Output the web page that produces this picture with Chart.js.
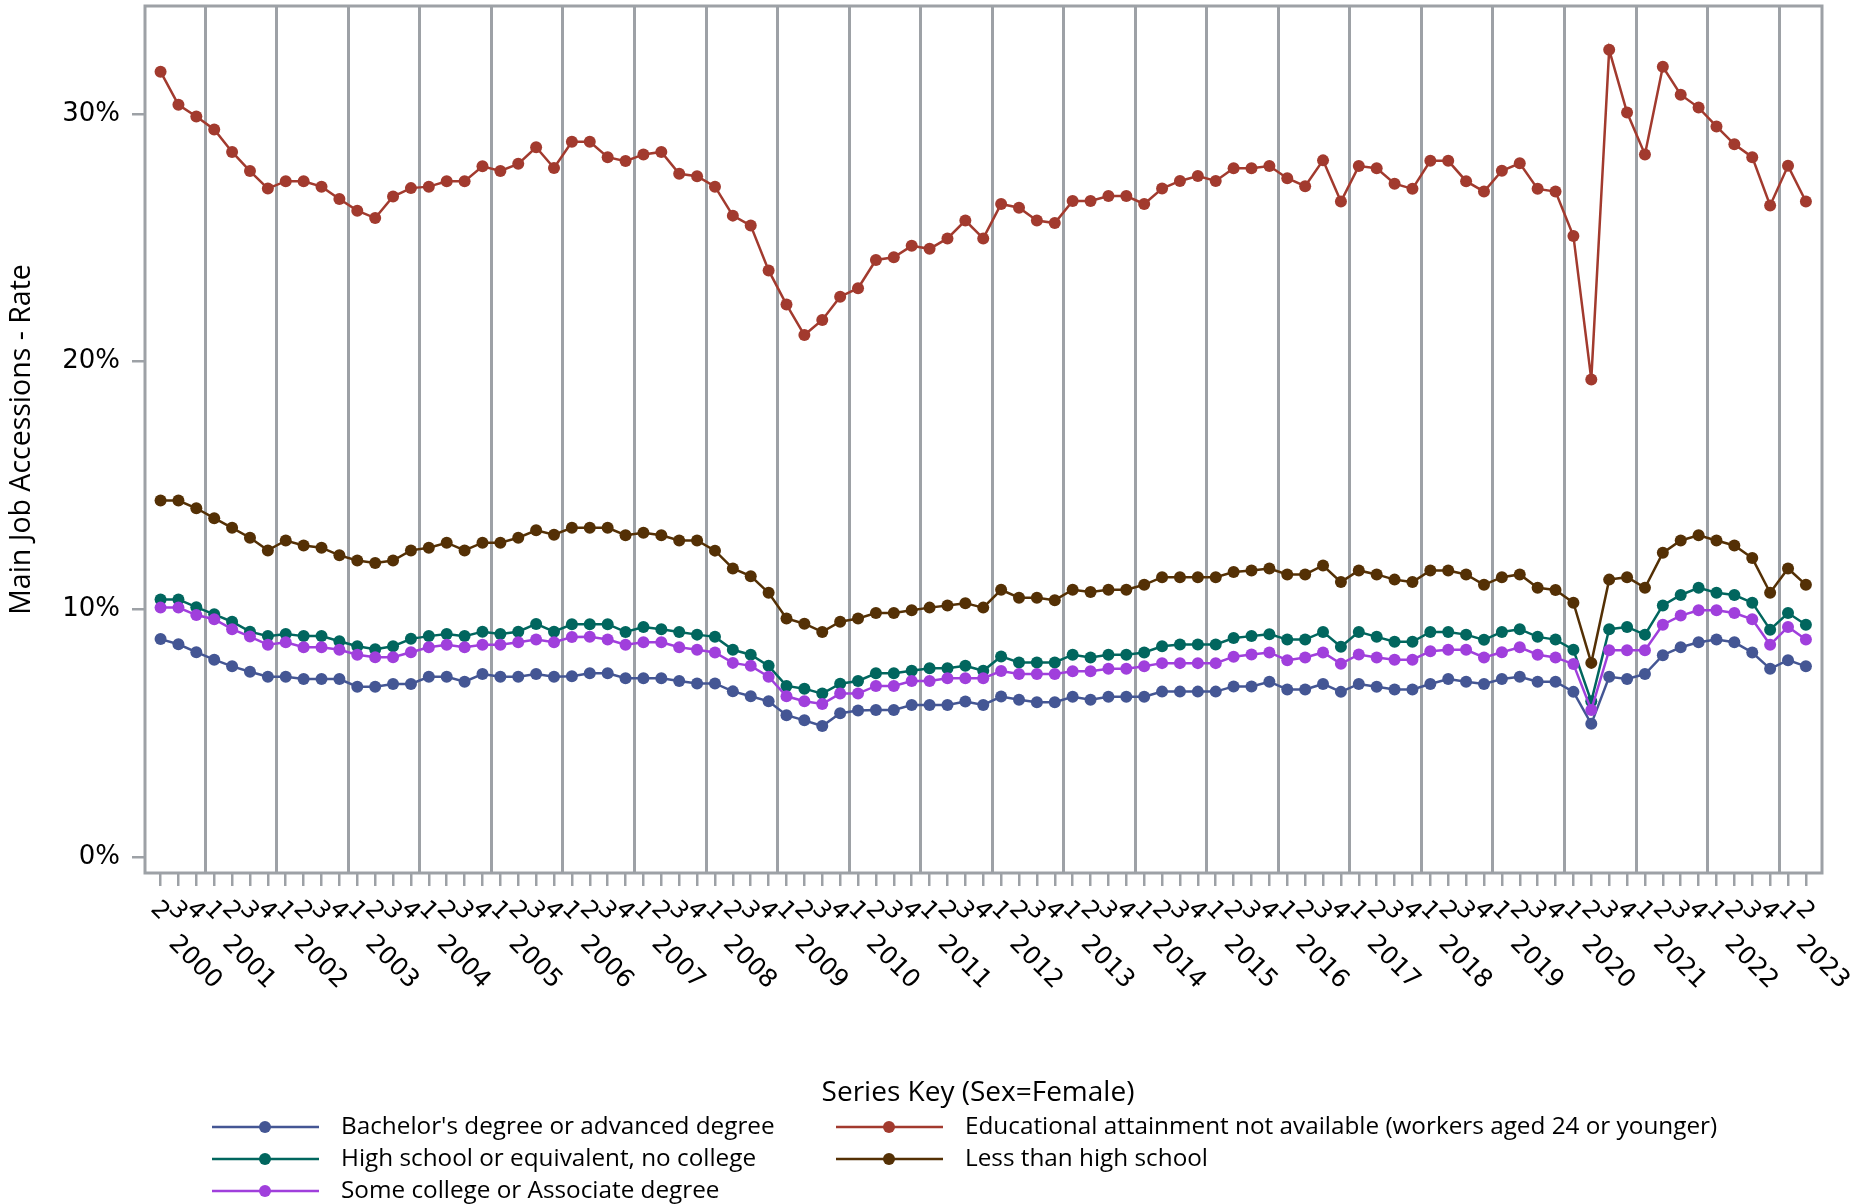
<!DOCTYPE html>
<html lang="en">
<head>
  <meta charset="UTF-8">
  <title>Main Job Accessions - Rate</title>
  <style>
    html, body { margin: 0; padding: 0; background: #fff; }
  </style>
</head>
<body>
  <div>
    <canvas id="myChart" width="1864" height="1204"></canvas>
  </div>

  <script src="https://cdn.jsdelivr.net/npm/chart.js"></script>

  <script>
    // quarters, 2000 Q2 .. 2023 Q2
    const periods = [
      '2000 2','2000 3','2000 4',
      '2001 1','2001 2','2001 3','2001 4','2002 1','2002 2','2002 3','2002 4',
      '2003 1','2003 2','2003 3','2003 4','2004 1','2004 2','2004 3','2004 4',
      '2005 1','2005 2','2005 3','2005 4','2006 1','2006 2','2006 3','2006 4',
      '2007 1','2007 2','2007 3','2007 4','2008 1','2008 2','2008 3','2008 4',
      '2009 1','2009 2','2009 3','2009 4','2010 1','2010 2','2010 3','2010 4',
      '2011 1','2011 2','2011 3','2011 4','2012 1','2012 2','2012 3','2012 4',
      '2013 1','2013 2','2013 3','2013 4','2014 1','2014 2','2014 3','2014 4',
      '2015 1','2015 2','2015 3','2015 4','2016 1','2016 2','2016 3','2016 4',
      '2017 1','2017 2','2017 3','2017 4','2018 1','2018 2','2018 3','2018 4',
      '2019 1','2019 2','2019 3','2019 4','2020 1','2020 2','2020 3','2020 4',
      '2021 1','2021 2','2021 3','2021 4','2022 1','2022 2','2022 3','2022 4',
      '2023 1','2023 2'
    ]

    const bachelor = [
      8.80, 8.59, 8.27, 7.97, 7.70, 7.48, 7.28, 7.28, 7.19, 7.19, 7.19,
      6.88, 6.88, 6.99, 6.99, 7.28, 7.28, 7.08, 7.39, 7.28, 7.28, 7.39, 7.28,
      7.30, 7.42, 7.42, 7.22, 7.22, 7.22, 7.11, 7.01, 7.01, 6.69, 6.49, 6.29,
      5.73, 5.52, 5.29, 5.81, 5.92, 5.94, 5.94, 6.14, 6.14, 6.14, 6.28, 6.14,
      6.48, 6.35, 6.25, 6.25, 6.47, 6.35, 6.47, 6.47, 6.47, 6.68, 6.68, 6.68,
      6.68, 6.89, 6.89, 7.08, 6.77, 6.77, 6.99, 6.67, 6.99, 6.88, 6.77, 6.77,
      6.99, 7.19, 7.08, 6.99, 7.19, 7.28, 7.08, 7.08, 6.67, 5.38, 7.28, 7.19,
      7.39, 8.15, 8.47, 8.67, 8.78, 8.67, 8.26, 7.60, 7.95, 7.70
    ]
    const notAvailable = [
      31.70, 30.36, 29.89, 29.37, 28.46, 27.69, 26.98, 27.28, 27.28, 27.06, 26.56,
      26.09, 25.79, 26.66, 27.00, 27.06, 27.28, 27.28, 27.88, 27.69, 27.98, 28.65, 27.81,
      28.87, 28.87, 28.25, 28.09, 28.36, 28.46, 27.58, 27.48, 27.06, 25.89, 25.49, 23.68,
      22.30, 21.07, 21.68, 22.62, 22.96, 24.10, 24.21, 24.67, 24.55, 24.97, 25.69, 24.97,
      26.36, 26.21, 25.69, 25.59, 26.48, 26.48, 26.68, 26.68, 26.36, 26.98, 27.29, 27.49,
      27.29, 27.80, 27.80, 27.89, 27.40, 27.08, 28.12, 26.46, 27.89, 27.80, 27.18, 26.97,
      28.10, 28.10, 27.28, 26.86, 27.70, 28.00, 26.97, 26.86, 25.07, 19.28, 32.58, 30.05,
      28.36, 31.90, 30.77, 30.25, 29.49, 28.77, 28.25, 26.30, 27.90, 26.46
    ]
    const highSchool = [
      10.40, 10.40, 10.09, 9.80, 9.50, 9.10, 8.92, 9.01, 8.92, 8.92, 8.71,
      8.51, 8.39, 8.51, 8.81, 8.92, 9.01, 8.92, 9.10, 9.01, 9.10, 9.41, 9.10,
      9.40, 9.40, 9.40, 9.09, 9.29, 9.20, 9.09, 8.98, 8.89, 8.37, 8.17, 7.72,
      6.91, 6.80, 6.60, 7.00, 7.11, 7.42, 7.42, 7.52, 7.62, 7.62, 7.72, 7.52,
      8.10, 7.86, 7.86, 7.86, 8.17, 8.06, 8.17, 8.17, 8.26, 8.51, 8.58, 8.58,
      8.58, 8.84, 8.92, 9.00, 8.78, 8.78, 9.09, 8.49, 9.09, 8.89, 8.69, 8.69,
      9.09, 9.09, 8.98, 8.77, 9.09, 9.20, 8.89, 8.78, 8.37, 6.29, 9.20, 9.29,
      8.98, 10.16, 10.58, 10.87, 10.67, 10.58, 10.27, 9.18, 9.85, 9.38
    ]
    const lessThanHS = [
      14.39, 14.39, 14.08, 13.68, 13.29, 12.89, 12.38, 12.78, 12.58, 12.49, 12.18,
      11.97, 11.87, 11.97, 12.38, 12.49, 12.69, 12.38, 12.69, 12.69, 12.89, 13.19, 13.01,
      13.29, 13.29, 13.29, 12.99, 13.09, 12.99, 12.78, 12.78, 12.37, 11.65, 11.34, 10.67,
      9.63, 9.42, 9.09, 9.50, 9.63, 9.85, 9.85, 9.96, 10.07, 10.16, 10.25, 10.07,
      10.79, 10.47, 10.47, 10.37, 10.79, 10.70, 10.79, 10.79, 10.99, 11.30, 11.30, 11.30,
      11.30, 11.51, 11.57, 11.65, 11.41, 11.41, 11.77, 11.10, 11.57, 11.41, 11.20, 11.10,
      11.57, 11.57, 11.41, 10.99, 11.30, 11.41, 10.87, 10.78, 10.27, 7.84, 11.20, 11.30,
      10.87, 12.28, 12.78, 12.99, 12.78, 12.58, 12.07, 10.67, 11.65, 10.99
    ]
    const someCollege = [
      10.07, 10.07, 9.77, 9.60, 9.20, 8.90, 8.57, 8.67, 8.47, 8.47, 8.37,
      8.17, 8.07, 8.07, 8.27, 8.47, 8.57, 8.47, 8.57, 8.57, 8.67, 8.78, 8.67,
      8.88, 8.89, 8.78, 8.57, 8.67, 8.67, 8.47, 8.37, 8.26, 7.84, 7.72, 7.28,
      6.49, 6.29, 6.18, 6.60, 6.60, 6.91, 6.91, 7.11, 7.11, 7.22, 7.22, 7.22,
      7.51, 7.39, 7.39, 7.39, 7.50, 7.50, 7.60, 7.60, 7.70, 7.83, 7.83, 7.83,
      7.83, 8.09, 8.18, 8.26, 7.95, 8.06, 8.26, 7.80, 8.18, 8.06, 7.97, 7.97,
      8.31, 8.37, 8.37, 8.06, 8.27, 8.47, 8.17, 8.06, 7.79, 5.94, 8.35, 8.35,
      8.35, 9.38, 9.75, 9.96, 9.96, 9.85, 9.60, 8.57, 9.29, 8.78
    ]

    const yTicks = [0, 10, 20, 30]
    const gridColor = '#9da1a6'

    // legend slots, column by column like the original
    const legendCols = [
      ['Bachelor\'s degree or advanced degree', 'High school or equivalent, no college', 'Some college or Associate degree'],
      ['Educational attainment not available (workers aged 24 or younger)', 'Less than high school']
    ]

    function series(label, values, color, order) {
      return {
        label: label,
        data: values.map((v, i) => ({ x: i, y: v })),
        borderColor: color,
        backgroundColor: color,
        borderWidth: 2.5,
        pointRadius: 6,
        pointBorderWidth: 0,
        pointBackgroundColor: color,
        order: order
      }
    }

    const data = {
      datasets: [
        series('Bachelor\'s degree or advanced degree', bachelor, '#445694', 4),
        series('Educational attainment not available (workers aged 24 or younger)', notAvailable, '#a23a2e', 3),
        series('High school or equivalent, no college', highSchool, '#01665e', 2),
        series('Less than high school', lessThanHS, '#543005', 1),
        series('Some college or Associate degree', someCollege, '#a03fdc', 0)
      ]
    }

    // frame around the plot
    const framePlugin = {
      id: 'frame',
      beforeDatasetsDraw(chart) {
        const a = chart.chartArea
        const ctx = chart.ctx
        ctx.save()
        ctx.strokeStyle = gridColor
        ctx.lineWidth = 3
        ctx.strokeRect(a.left, a.top, a.right - a.left, a.bottom - a.top)
        ctx.restore()
      }
    }

    // quarter digits + year labels, both turned 45deg clockwise
    const axisLabelPlugin = {
      id: 'axisLabels',
      afterDraw(chart) {
        const ctx = chart.ctx
        const x = chart.scales.x
        const seen = {}
        ctx.save()
        ctx.fillStyle = '#000'
        periods.forEach((p, i) => {
          const [yr, q] = p.split(' ')
          const px = x.getPixelForValue(i)
          ctx.save()
          ctx.translate(px - 1, 911)
          ctx.rotate(Math.PI / 4)
          ctx.font = '24px "DejaVu Sans"'
          ctx.textAlign = 'center'
          ctx.textBaseline = 'middle'
          ctx.fillText(q, 0, 0)
          ctx.restore()
          // year name sits at the 2nd quarter listed for that year
          seen[yr] = (seen[yr] || 0) + 1
          if (seen[yr] === 2) {
            ctx.save()
            ctx.translate(px - 6, 940)
            ctx.rotate(Math.PI / 4)
            ctx.font = '25px "DejaVu Sans"'
            ctx.textAlign = 'left'
            ctx.textBaseline = 'middle'
            ctx.fillText(yr, 0, 0)
            ctx.restore()
          }
        })
        ctx.restore()
      }
    }

    const legendPlugin = {
      id: 'seriesKey',
      afterDraw(chart) {
        const ctx = chart.ctx
        ctx.save()
        ctx.fillStyle = '#000'
        ctx.font = '28px "Open Sans"'
        ctx.textAlign = 'center'
        ctx.textBaseline = 'middle'
        ctx.fillText('Series Key (Sex=Female)', 978, 1093)

        const colX = [212, 836]
        const rowY = [1127, 1159, 1191]
        legendCols.forEach((col, c) => {
          col.forEach((label, r) => {
            const ds = chart.data.datasets.find(d => d.label === label)
            const x0 = colX[c], y0 = rowY[r]
            ctx.strokeStyle = ds.borderColor
            ctx.lineWidth = 2.5
            ctx.beginPath()
            ctx.moveTo(x0, y0)
            ctx.lineTo(x0 + 107, y0)
            ctx.stroke()
            ctx.fillStyle = ds.borderColor
            ctx.beginPath()
            ctx.arc(x0 + 53, y0, 6, 0, Math.PI * 2)
            ctx.fill()
            ctx.fillStyle = '#000'
            ctx.font = '24.3px "Open Sans"'
            ctx.textAlign = 'left'
            ctx.fillText(label, x0 + 129, y0)
          })
        })
        ctx.restore()
      }
    }

    const config = {
      type: 'line',
      data: data,
      options: {
        responsive: false,
        maintainAspectRatio: false,
        animation: false,
        layout: { padding: { top: 2, right: 42, left: 0, bottom: 0 } },
        plugins: {
          legend: { display: false },
          tooltip: { enabled: false }
        },
        scales: {
          x: {
            type: 'linear',
            position: 'bottom',
            min: -0.87,
            max: 92.9,
            afterBuildTicks: (s) => { s.ticks = periods.map((p, i) => ({ value: i })) },
            afterFit: (s) => { s.height = 331 },
            ticks: { display: false },
            border: { display: false },
            grid: {
              drawOnChartArea: false,
              tickLength: 13,
              color: gridColor,
              lineWidth: 2.5
            }
          },
          xYear: {
            type: 'linear',
            position: 'top',
            min: -0.87,
            max: 92.9,
            afterBuildTicks: (s) => {
              const t = []
              periods.forEach((p, i) => { if (i > 0 && p.endsWith(' 1')) t.push({ value: i - 0.5 }) })
              s.ticks = t
            },
            afterFit: (s) => { s.height = 0 },
            ticks: { display: false },
            border: { display: false },
            grid: {
              drawTicks: false,
              color: gridColor,
              lineWidth: 3
            }
          },
          y: {
            min: -0.64,
            max: 34.35,
            afterBuildTicks: (s) => { s.ticks = yTicks.map(v => ({ value: v })) },
            afterFit: (s) => {
              s.width = 145
              s.paddingTop = 0
              s.paddingBottom = 0
            },
            ticks: {
              padding: 12,
              color: '#000',
              font: { family: 'DejaVu Sans', size: 26 },
              callback: (v) => v + '%'
            },
            border: { display: false },
            grid: {
              drawOnChartArea: false,
              tickLength: 13,
              color: gridColor,
              lineWidth: 2.5
            },
            title: {
              display: true,
              text: 'Main Job Accessions - Rate',
              color: '#000',
              padding: { top: 5, bottom: 4 },
              font: { family: 'Open Sans', size: 28.5 }
            }
          }
        }
      },
      plugins: [framePlugin, axisLabelPlugin, legendPlugin]
    }

    const myChart = new Chart(
      document.getElementById('myChart'),
      config
    )
  </script>
</body>
</html>
